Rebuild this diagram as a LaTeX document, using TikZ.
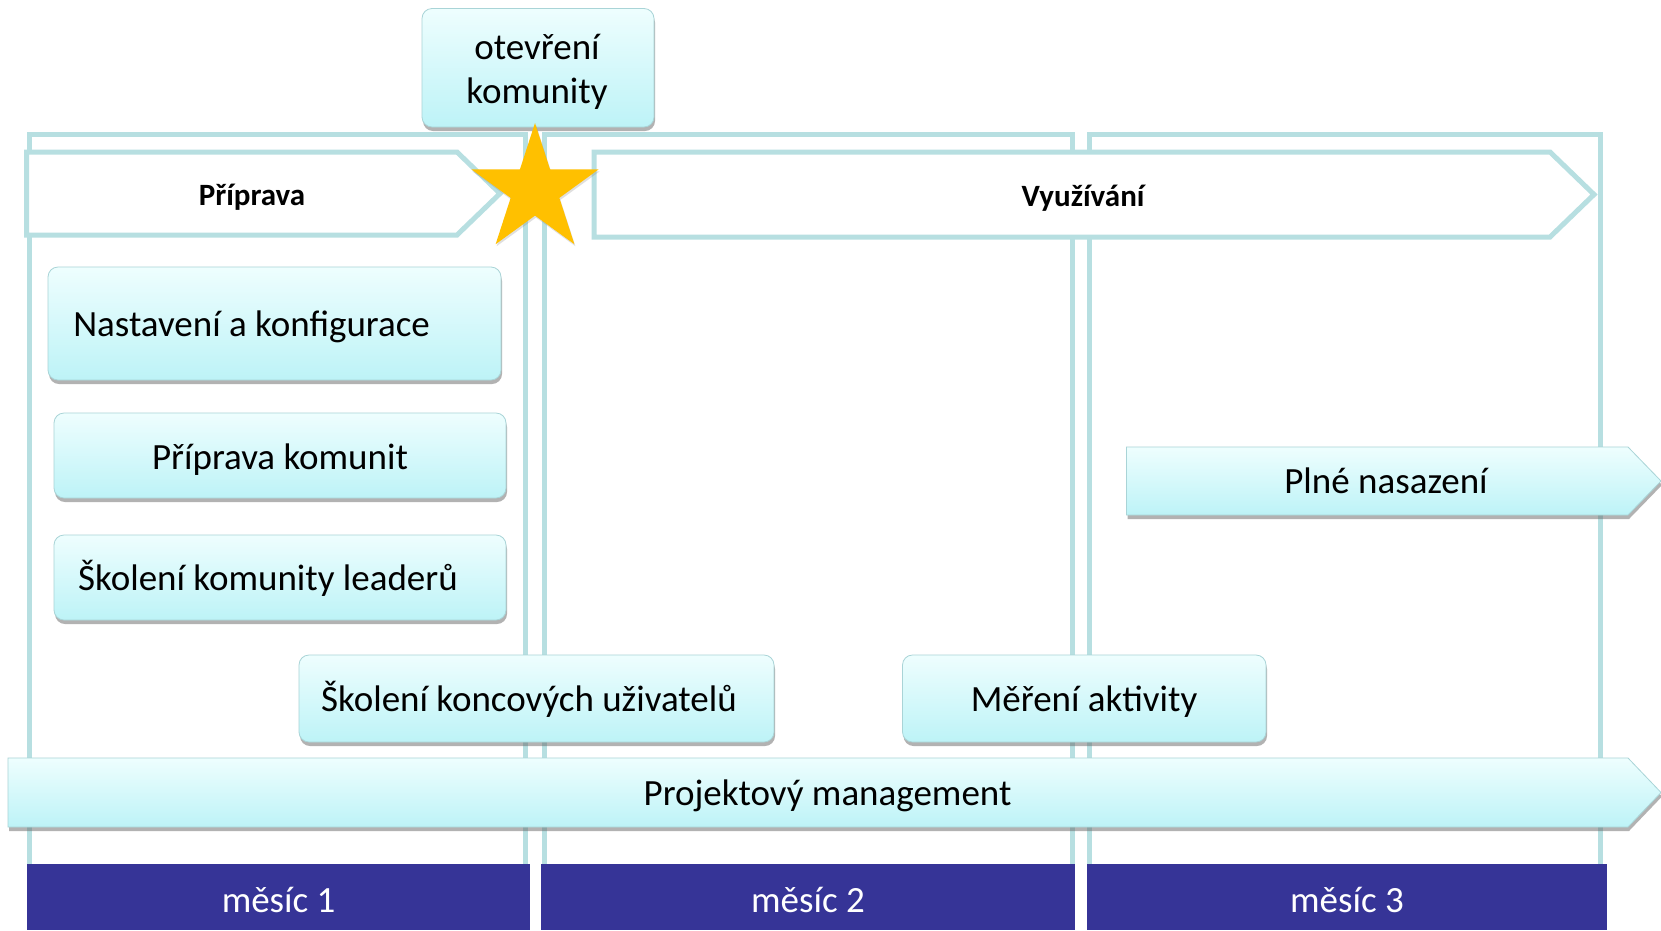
\documentclass[tikz,border=0pt]{standalone}
\usepackage{fontspec}
\setmainfont{Carlito}
\usetikzlibrary{shadows,shapes.geometric}
\definecolor{framec}{HTML}{B7DFE1}
\definecolor{boxtop}{HTML}{EEFEFE}
\definecolor{boxbot}{HTML}{BDF3F7}
\definecolor{boxedge}{HTML}{A9D4D7}
\definecolor{barc}{HTML}{363497}
\definecolor{goldc}{HTML}{FFC000}
\begin{document}
\begin{tikzpicture}[x=1pt,y=-1pt,
  monthframe/.style={draw=framec,line width=5pt},
  phase/.style={draw=framec,line width=5pt,fill=white,line join=miter},
  taskbox/.style={rounded corners=10pt,top color=boxtop,bottom color=boxbot,draw=boxedge,line width=0.8pt,
    drop shadow={shadow xshift=1pt,shadow yshift=-4pt,opacity=0.5,fill=black!60}},
  taskarrow/.style={top color=boxtop,bottom color=boxbot,draw=boxedge,line width=0.8pt,line join=miter,
    drop shadow={shadow xshift=1pt,shadow yshift=-4pt,opacity=0.5,fill=black!60}},
  tasktext/.style={font=\fontsize{37}{40}\selectfont,inner sep=0pt,text height=35pt,text depth=10pt},
  phasetext/.style={font=\fontsize{31}{36}\selectfont\bfseries,inner sep=0pt,text height=29.5pt,text depth=8.3pt},
  monthbar/.style={fill=barc},
  monthtext/.style={font=\fontsize{37}{40}\selectfont,text=white,inner sep=0pt,text height=35pt,text depth=10pt}
]
\useasboundingbox (0,0) rectangle (1661,930);
\fill[white] (0,0) rectangle (1661,930);

% month frames
\draw[monthframe] (29.5,134) rectangle (525.7,900);
\draw[monthframe] (544.5,134) rectangle (1072,900);
\draw[monthframe] (1089,134) rectangle (1600.6,900);

% phase headers
\path[phase] (26.5,152) -- (457,152) -- (500,193.5) -- (457,235) -- (26.5,235) -- cycle;
\node[phasetext] (ph1) at (252,194.5) {Příprava};
\path[phase] (594,152) -- (1550,152) -- (1594,194.5) -- (1550,237) -- (594,237) -- cycle;
\node[phasetext] (ph2) at (1083,195.5) {Využívání};

% tasks
\path[taskbox] (48,267) rectangle (501,380);
\node[tasktext] (t1) at (251.6,323.5) {Nastavení a konfigurace};
\path[taskbox] (54,413) rectangle (506,498);
\node[tasktext] (t2) at (280,456.5) {Příprava komunit};
\path[taskbox] (54,535) rectangle (506,620);
\node[tasktext] (t3) at (268,577.5) {Školení komunity leaderů};
\path[taskbox] (299,655) rectangle (774,742);
\node[tasktext] (t4) at (529,698.5) {Školení koncových uživatelů};
\path[taskbox] (902.5,655) rectangle (1266,742);
\node[tasktext] (t5) at (1084,698.5) {Měření aktivity};

\path[taskarrow] (1126.5,447) -- (1628,447) -- (1661,481) -- (1628,515) -- (1126.5,515) -- cycle;
\node[tasktext] (t6) at (1386,481) {Plné nasazení};
\path[taskarrow] (8,758) -- (1628,758) -- (1661,792.5) -- (1628,827) -- (8,827) -- cycle;
\node[tasktext] (t7) at (827.5,793) {Projektový management};

% month bars
\fill[monthbar] (26.5,864) rectangle (529.6,930);
\node[monthtext] (m1) at (278.6,900) {měsíc 1};
\fill[monthbar] (541,864) rectangle (1075,930);
\node[monthtext] (m2) at (808,900) {měsíc 2};
\fill[monthbar] (1087,864) rectangle (1607,930);
\node[monthtext] (m3) at (1347,900) {měsíc 3};

% milestone
\path[taskbox] (422,8.5) rectangle (654,127);
\node[font=\fontsize{37}{43.5}\selectfont,align=center,inner sep=0pt] (ms) at (537,72) {otevření\\komunity};
\node[star,star points=5,star point ratio=2.618,minimum size=134pt,inner sep=0pt,fill=goldc,
  drop shadow={shadow xshift=1pt,shadow yshift=-2pt,opacity=0.25}] (star) at (535,190) {};
\end{tikzpicture}
\end{document}
